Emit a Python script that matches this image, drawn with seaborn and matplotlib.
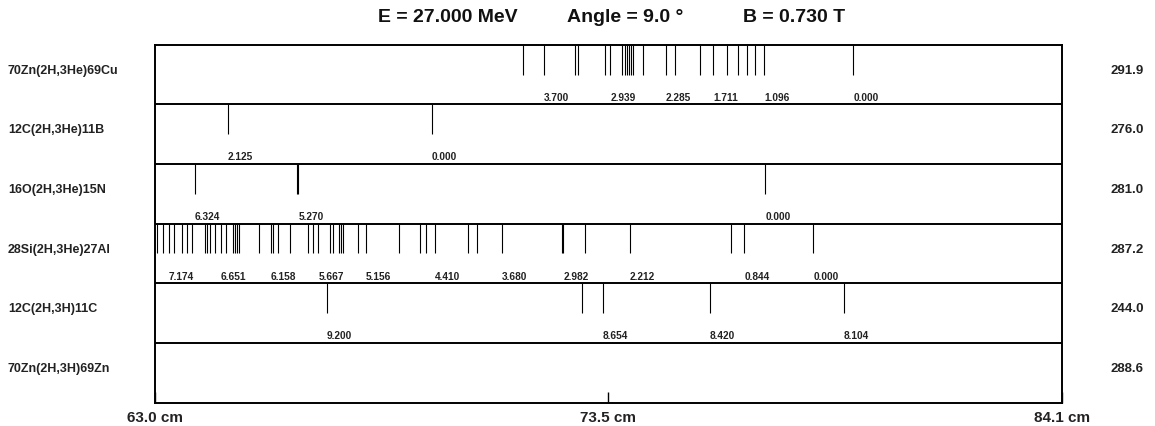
import matplotlib
matplotlib.use("Agg")
import matplotlib.pyplot as plt
import matplotlib.transforms as mtransforms
import seaborn as sns

# reactions shown top to bottom, with the rho value printed on the right
reactions = ["70Zn(2H,3He)69Cu", "12C(2H,3He)11B", "16O(2H,3He)15N",
             "28Si(2H,3He)27Al", "12C(2H,3H)11C", "70Zn(2H,3H)69Zn"]
rho_values = ["291.9", "276.0", "281.0", "287.2", "244.0", "288.6"]

# focal-plane positions (cm) of the states in each spectrum
lines_zn_cu = [71.56, 72.06, 72.78, 72.84, 73.48, 73.60, 73.88, 73.94, 73.99,
               74.03, 74.08, 74.13, 74.37, 74.89, 75.10, 75.69, 76.00, 76.31,
               76.56, 76.79, 76.97, 77.18, 79.25]
lines_c_b = [64.70, 69.45]
lines_o_n = [63.93, 66.30, 66.34, 77.21]
lines_si_al = [63.06, 63.19, 63.33, 63.46, 63.63, 63.76, 63.86, 64.17, 64.22,
               64.29, 64.41, 64.54, 64.66, 64.83, 64.88, 64.92, 64.97, 65.42,
               65.70, 65.76, 65.88, 66.15, 66.57, 66.69, 66.81, 67.08, 67.14,
               67.29, 67.34, 67.37, 67.74, 67.92, 68.69, 69.17, 69.32, 69.53,
               70.30, 70.49, 71.08, 72.48, 72.51, 73.01, 74.06, 76.40, 76.72,
               78.32]
lines_c_c = [67.01, 72.94, 73.43, 75.91, 79.03]
lines_zn_zn = []

# excitation energies (MeV) written under some of the lines
labels_zn_cu = [(72.06, "3.700"), (73.60, "2.939"), (74.89, "2.285"),
                (76.00, "1.711"), (77.18, "1.096"), (79.25, "0.000")]
labels_c_b = [(64.70, "2.125"), (69.45, "0.000")]
labels_o_n = [(63.93, "6.324"), (66.34, "5.270"), (77.21, "0.000")]
labels_si_al = [(63.33, "7.174"), (64.54, "6.651"), (65.70, "6.158"),
                (66.81, "5.667"), (67.92, "5.156"), (69.53, "4.410"),
                (71.08, "3.680"), (72.51, "2.982"), (74.06, "2.212"),
                (76.72, "0.844"), (78.32, "0.000")]
labels_c_c = [(67.01, "9.200"), (73.43, "8.654"), (75.91, "8.420"),
              (79.03, "8.104")]
labels_zn_zn = []

row_lines = [lines_zn_cu, lines_c_b, lines_o_n, lines_si_al, lines_c_c, lines_zn_zn]
row_labels = [labels_zn_cu, labels_c_b, labels_o_n, labels_si_al, labels_c_c, labels_zn_zn]

x_min, x_max = 63.0, 84.1
axis_ticks = [63.0, 73.55, 84.1]
axis_ticklabels = ["63.0 cm", "73.5 cm", "84.1 cm"]
title_parts = ["E = 27.000 MeV", "Angle = 9.0 \u00b0", "B = 0.730 T"]

sns.set_theme(style="white")
plt.rcParams["font.family"] = ["Liberation Sans", "DejaVu Sans"]

fig = plt.figure(figsize=(11.55, 4.27), dpi=100)
ax = fig.add_axes([0.1339, 0.0548, 0.7853, 0.8382])

n_rows = len(reactions)
ax.set_xlim(x_min, x_max)
ax.set_ylim(n_rows, 0)

for i, (pos, labs) in enumerate(zip(row_lines, row_labels)):
    if pos:
        ax.vlines(pos, i, i + 0.5, color="black", lw=0.8)
    for x, txt in labs:
        ax.text(x, i + 0.87, txt, ha="left", va="center",
                fontsize=7.3, fontweight="bold", color="#222222")
    if i > 0:
        ax.axhline(i, color="black", lw=1.4)

trans = mtransforms.blended_transform_factory(ax.transAxes, ax.transData)
for i, (name, rho) in enumerate(zip(reactions, rho_values)):
    ax.text(-0.1617, i + 0.42, name, transform=trans, ha="left", va="center",
            fontsize=9, fontweight="bold", color="#222222")
    ax.text(1.0533, i + 0.42, rho, transform=trans, ha="left", va="center",
            fontsize=9.5, fontweight="bold", color="#222222")

ax.set_yticks([])
ax.set_xticks(axis_ticks)
ax.set_xticklabels(axis_ticklabels, fontsize=11, fontweight="bold", color="#222222")
ax.tick_params(axis="x", direction="in", length=8, width=1.0, pad=5,
               bottom=True, color="black")
for s in ax.spines.values():
    s.set_color("black")
    s.set_linewidth(1.4)

# title pieces spread across the top like the original header
W = 1155.0
fig.text(378 / W, 0.958, title_parts[0], ha="left", va="center",
         fontsize=14, fontweight="bold", color="#111111")
fig.text(625 / W, 0.958, title_parts[1], ha="center", va="center",
         fontsize=14, fontweight="bold", color="#111111")
fig.text(845 / W, 0.958, title_parts[2], ha="right", va="center",
         fontsize=14, fontweight="bold", color="#111111")

fig.savefig("out.png", dpi=100)
